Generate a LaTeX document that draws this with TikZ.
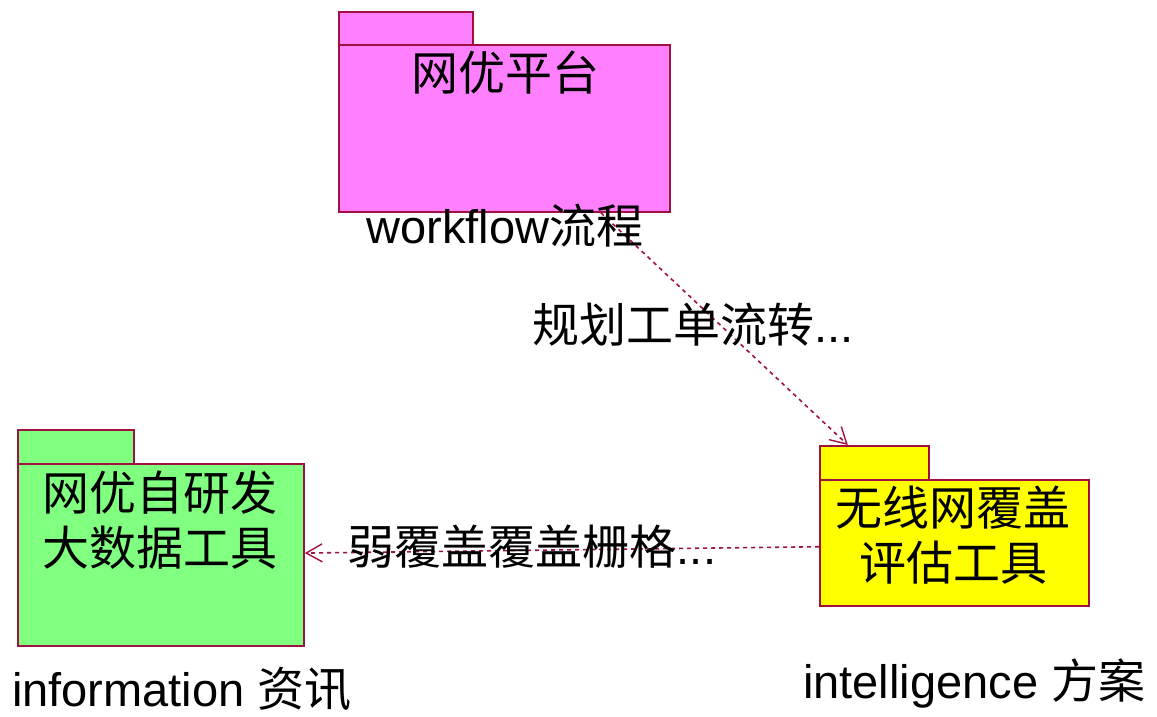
\documentclass[tikz,border=0pt]{standalone}
\usepackage{fontspec}
\setmainfont{Liberation Sans}
\newfontfamily\cjk{Noto Sans CJK SC}
\usetikzlibrary{arrows.meta,calc}
\definecolor{bord}{RGB}{160,16,64}
\definecolor{pinkfill}{RGB}{255,128,255}
\definecolor{greenfill}{RGB}{128,255,128}
\definecolor{yellowfill}{RGB}{255,255,0}
\begin{document}
\begin{tikzpicture}[x=1pt,y=-1pt,
  pkg/.style={draw=bord, line width=1.8pt, anchor=north west, inner sep=0pt, rectangle},
  dep/.style={draw=bord, line width=1.6pt, dash pattern=on 4pt off 4pt,
    -{Straight Barb[length=16pt,width=18pt,line width=1.4pt]}},
  txt/.style={font=\fontsize{47}{55}\selectfont\cjk, text=black, inner sep=0pt, align=center},
  lbl/.style={font=\fontsize{47}{55}\selectfont, text=black, inner sep=0pt}]
\useasboundingbox (0,0) rectangle (1157,717);
% pink package
\node[pkg, fill=pinkfill, minimum width=134pt, minimum height=33pt] (ptab) at (338,11) {};
\node[pkg, fill=pinkfill, minimum width=331pt, minimum height=167pt] (pbody) at (338,44) {};
% green package
\node[pkg, fill=greenfill, minimum width=116pt, minimum height=34pt] (gtab) at (17,429) {};
\node[pkg, fill=greenfill, minimum width=286pt, minimum height=182pt] (gbody) at (17,463) {};
% yellow package
\node[pkg, fill=yellowfill, minimum width=109pt, minimum height=34pt] (ytab) at (819,445) {};
\node[pkg, fill=yellowfill, minimum width=269pt, minimum height=126pt] (ybody) at (819,479) {};
% connectors
\draw[dep] ($(pbody.south west)!0.79!(pbody.south east)$) -- ($(ytab.north west)!0.26!(ytab.north east)$);
\draw[dep] ($(ybody.north west)!0.53!(ybody.south west)$) -- ($(gbody.north east)!0.49!(gbody.south east)$);
% texts
\node[txt] (pt) at (505,73) {网优平台};
\node[txt] (gt) at (160,520) {网优自研发\\大数据工具};
\node[txt] (yt) at (953,535) {无线网覆盖\\评估工具};
\node[lbl] (pl) at (505,226) {workflow{\cjk 流程}};
\node[lbl, anchor=west] (gl) at (12,689) {information {\cjk 资讯}};
\node[lbl, anchor=west] (yl) at (803,683) {intelligence {\cjk 方案}};
\node[lbl] (d1) at (693,325) {{\cjk 规划工单流转}...};
\node[lbl] (d2) at (532,547) {{\cjk 弱覆盖覆盖栅格}...};
\end{tikzpicture}
\end{document}
